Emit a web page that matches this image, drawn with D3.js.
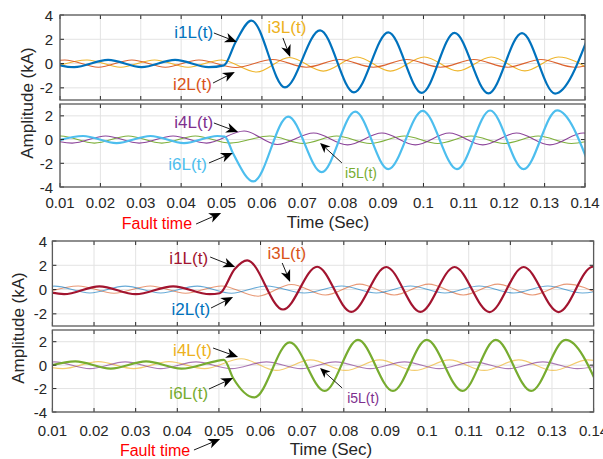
<!DOCTYPE html>
<html><head><meta charset="utf-8">
<script src="https://cdn.jsdelivr.net/npm/d3@7/dist/d3.min.js"></script>
<style>
body{margin:0;background:#fff}
svg{display:block}
text{font-family:"Liberation Sans",Arial,Helvetica,sans-serif}
</style>
</head><body>
<svg id="chart" width="603" height="459"></svg>
<script>
// ---------------- DATA (time in s, current in kA; extrema) ----------------
const xTicks = [0.01,0.02,0.03,0.04,0.05,0.06,0.07,0.08,0.09,0.10,0.11,0.12,0.13,0.14];
const xTickLabels = ["0.01","0.02","0.03","0.04","0.05","0.06","0.07","0.08","0.09","0.1","0.11","0.12","0.13","0.14"];
const yTicksUpper = [4,2,0,-2];
const yTicksLower = [2,0,-2,-4];
const yDomainUpper = [-3,4];
const yDomainLower = [-4,3];
const xDomain = [0.01,0.14];

// Top figure, upper panel
const topI1 = [[0.0052,0.3],[0.0135,-0.3],[0.0219,0.3],[0.0302,-0.3],[0.0385,0.3],[0.0468,-0.3],[0.0506,-0.15],[0.0535,1.78],[0.0574,3.54],[0.0657,-1.96],[0.0744,2.74],[0.0828,-2.37],[0.0913,2.57],[0.0996,-2.42],[0.1077,2.52],[0.1161,-2.45],[0.1244,2.5],[0.1326,-2.47],[0.1411,2.48]];
const topI2 = [[0.0029,-0.3],[0.0112,0.3],[0.0195,-0.3],[0.0278,0.3],[0.0361,-0.3],[0.0444,0.3],[0.0535,-0.32],[0.0627,0.33],[0.071,-0.3],[0.0793,0.33],[0.0876,-0.3],[0.0959,0.33],[0.1042,-0.3],[0.1125,0.33],[0.1208,-0.3],[0.1291,0.33],[0.1374,-0.3],[0.1457,0.33]];
const topI3 = [[0.0084,-0.3],[0.0167,0.3],[0.025,-0.3],[0.0334,0.3],[0.0417,-0.3],[0.05,0.3],[0.0587,-0.7],[0.0668,0.5],[0.0752,-0.62],[0.0835,0.54],[0.0918,-0.62],[0.1002,0.54],[0.1085,-0.6],[0.1168,0.54],[0.1251,-0.6],[0.1334,0.54],[0.1417,-0.6]];
// Top figure, lower panel
const topI4 = [[0.0047,0.3],[0.013,-0.3],[0.0213,0.3],[0.0296,-0.3],[0.038,0.3],[0.0463,-0.3],[0.0556,0.72],[0.0638,-0.42],[0.0728,0.55],[0.0812,-0.45],[0.0897,0.55],[0.098,-0.45],[0.1064,0.55],[0.1147,-0.45],[0.123,0.55],[0.1313,-0.45],[0.1396,0.55],[0.148,-0.45]];
const topI5 = [[0.0019,-0.3],[0.0102,0.3],[0.0185,-0.3],[0.0269,0.3],[0.0352,-0.3],[0.0435,0.3],[0.0521,-0.3],[0.0619,0.3],[0.0702,-0.33],[0.0785,0.3],[0.0868,-0.33],[0.0953,0.3],[0.1035,-0.33],[0.1118,0.3],[0.12,-0.33],[0.1284,0.3],[0.1366,-0.33],[0.145,0.3]];
const topI6 = [[0.0074,-0.3],[0.0157,0.3],[0.024,-0.3],[0.0324,0.3],[0.0407,-0.3],[0.049,0.3],[0.0508,0.25],[0.0528,-1.13],[0.0579,-3.53],[0.0665,1.94],[0.0748,-2.75],[0.0831,2.35],[0.0913,-2.5],[0.0998,2.42],[0.1083,-2.5],[0.1165,2.45],[0.1248,-2.5],[0.1331,2.47],[0.1414,-2.5]];
// Bottom figure, upper panel
const botI1 = [[0.0045,0.27],[0.0128,-0.38],[0.0213,0.27],[0.03,-0.38],[0.039,0.27],[0.0478,-0.38],[0.0502,-0.3],[0.0538,1.7],[0.0568,2.41],[0.0654,-1.64],[0.0736,1.88],[0.0818,-1.84],[0.0902,1.86],[0.0984,-1.84],[0.1066,1.86],[0.115,-1.85],[0.1232,1.86],[0.1316,-1.85],[0.1398,1.88],[0.148,-1.85]];
const botI2 = [[0.002,-0.28],[0.0105,0.28],[0.019,-0.28],[0.0275,0.28],[0.036,-0.28],[0.0448,0.28],[0.053,-0.3],[0.0615,0.3],[0.0705,-0.28],[0.0795,0.3],[0.0878,-0.28],[0.096,0.3],[0.1043,-0.28],[0.1125,0.3],[0.1208,-0.28],[0.129,0.3],[0.1373,-0.28],[0.1455,0.3]];
const botI3 = [[0.008,-0.3],[0.0162,0.3],[0.0248,-0.3],[0.0335,0.3],[0.042,-0.3],[0.0506,0.3],[0.0594,-0.55],[0.0674,0.42],[0.0756,-0.45],[0.0838,0.45],[0.0921,-0.45],[0.1004,0.45],[0.1087,-0.45],[0.117,0.45],[0.1253,-0.45],[0.1336,0.45],[0.1419,-0.45]];
// Bottom figure, lower panel
const botI4 = [[0.0042,0.3],[0.0125,-0.3],[0.021,0.3],[0.0295,-0.3],[0.038,0.3],[0.0465,-0.3],[0.0554,0.54],[0.0637,-0.45],[0.072,0.45],[0.0804,-0.45],[0.0886,0.45],[0.097,-0.45],[0.1054,0.45],[0.1137,-0.45],[0.122,0.45],[0.1303,-0.45],[0.1386,0.45],[0.147,-0.45]];
const botI5 = [[0.0022,-0.3],[0.0105,0.28],[0.019,-0.3],[0.0275,0.28],[0.036,-0.3],[0.0445,0.28],[0.053,-0.3],[0.0614,0.28],[0.0697,-0.3],[0.078,0.28],[0.0863,-0.3],[0.0946,0.28],[0.1029,-0.3],[0.1112,0.28],[0.1195,-0.3],[0.1278,0.28],[0.1361,-0.3],[0.1444,0.28]];
const botI6 = [[0.007,-0.3],[0.0155,0.32],[0.024,-0.3],[0.0325,0.32],[0.041,-0.3],[0.0488,0.3],[0.0512,0.45],[0.0534,-1.1],[0.0585,-2.76],[0.067,1.94],[0.0754,-2.2],[0.0834,2.15],[0.0918,-2.2],[0.0999,2.15],[0.1085,-2.2],[0.1165,2.15],[0.125,-2.2],[0.1333,2.15],[0.1416,-2.2]];

const xLabelText = "Time (Sec)";
const yLabelText = "Amplitude (kA)";
const faultText = "Fault time";

// ---------------- DRAWING ----------------
const svg = d3.select("#chart");
const C = {blue:"#0072BD", orange:"#D95319", yellow:"#EDB120", purple:"#7E2F8E", green:"#77AC30", cyan:"#4DBEEE", red:"#A2142F"};
let clipId = 0;

function arrow(g, p0, p1, headL, headW, sw){
  const dx = p1[0]-p0[0], dy = p1[1]-p0[1];
  const len = Math.hypot(dx,dy), ux = dx/len, uy = dy/len, nx = -uy, ny = ux;
  const back = headL*0.72;
  g.append("line").attr("x1",p0[0]).attr("y1",p0[1])
    .attr("x2",p1[0]-ux*back).attr("y2",p1[1]-uy*back)
    .attr("stroke","#1a1a1a").attr("stroke-width",sw);
  const pts = [
    [p1[0],p1[1]],
    [p1[0]-ux*headL+nx*headW, p1[1]-uy*headL+ny*headW],
    [p1[0]-ux*back, p1[1]-uy*back],
    [p1[0]-ux*headL-nx*headW, p1[1]-uy*headL-ny*headW]
  ];
  g.append("polygon").attr("points",pts.map(p=>p.join(",")).join(" ")).attr("fill","#000");
}

function drawFigure(fig){
  const g = svg.append("g");
  const x = d3.scaleLinear().domain(xDomain).range([fig.x0, fig.x1]);
  const yScales = [];
  fig.panels.forEach(p=>{
    const y = d3.scaleLinear().domain(p.domain).range([p.y1, p.y0]);
    yScales.push(y);
    const pg = g.append("g");
    // grid
    pg.append("g").selectAll("line").data(xTicks).join("line")
      .attr("x1",d=>x(d)).attr("x2",d=>x(d)).attr("y1",p.y0).attr("y2",p.y1)
      .attr("stroke","#e3e3e3").attr("stroke-width",1);
    pg.append("g").selectAll("line").data(p.ticks).join("line")
      .attr("x1",fig.x0).attr("x2",fig.x1).attr("y1",d=>y(d)).attr("y2",d=>y(d))
      .attr("stroke","#e3e3e3").attr("stroke-width",1);
    // curves
    const id = "clip"+(clipId++);
    pg.append("clipPath").attr("id",id).append("rect")
      .attr("x",fig.x0).attr("y",p.y0).attr("width",fig.x1-fig.x0).attr("height",p.y1-p.y0);
    const line = d3.line().x(d=>x(d[0])).y(d=>y(d[1])).curve(d3.curveMonotoneX);
    const cg = pg.append("g").attr("clip-path",`url(#${id})`);
    p.series.forEach(s=>{
      cg.append("path").attr("d",line(s.data)).attr("fill","none")
        .attr("stroke",s.color).attr("stroke-width",s.width).attr("stroke-opacity",s.opacity)
        .attr("stroke-linejoin","round");
    });
    // inward ticks on all sides
    pg.append("g").selectAll("line").data(xTicks).join("line")
      .attr("x1",d=>x(d)).attr("x2",d=>x(d)).attr("y1",p.y1).attr("y2",p.y1-4)
      .attr("stroke","#262626");
    pg.append("g").selectAll("line").data(xTicks).join("line")
      .attr("x1",d=>x(d)).attr("x2",d=>x(d)).attr("y1",p.y0).attr("y2",p.y0+4)
      .attr("stroke","#262626");
    pg.append("g").selectAll("line").data(p.ticks).join("line")
      .attr("x1",fig.x0).attr("x2",fig.x0+4).attr("y1",d=>y(d)).attr("y2",d=>y(d))
      .attr("stroke","#262626");
    pg.append("g").selectAll("line").data(p.ticks).join("line")
      .attr("x1",fig.x1).attr("x2",fig.x1-4).attr("y1",d=>y(d)).attr("y2",d=>y(d))
      .attr("stroke","#262626");
    pg.append("rect").attr("x",fig.x0).attr("y",p.y0).attr("width",fig.x1-fig.x0).attr("height",p.y1-p.y0)
      .attr("fill","none").attr("stroke","#5a5a5a").attr("stroke-width",1.3);
    // y tick labels
    pg.append("g").selectAll("text").data(p.ticks).join("text")
      .attr("x",fig.tickLabelX).attr("y",d=>y(d)).attr("text-anchor","end")
      .attr("dominant-baseline","central").attr("font-size",15).attr("fill","#262626")
      .text(d=>d);
  });
  // x tick labels
  g.append("g").selectAll("text").data(xTicks).join("text")
    .attr("x",d=>x(d)).attr("y",fig.tickLabelY).attr("text-anchor","middle")
    .attr("dominant-baseline","central").attr("font-size",15).attr("fill","#262626")
    .text((d,i)=>xTickLabels[i]);
  g.append("text").attr("x",fig.xLabelX).attr("y",fig.xLabelY).attr("text-anchor","middle")
    .attr("dominant-baseline","central").attr("font-size",17).attr("fill","#262626").text(xLabelText);
  g.append("text").attr("transform",`translate(${fig.yLabelX},${fig.yLabelY}) rotate(-90)`)
    .attr("text-anchor","middle").attr("dominant-baseline","central")
    .attr("font-size",17).attr("fill","#262626").text(yLabelText);
  // annotations
  fig.notes.forEach(n=>{
    const y = yScales[n.panel];
    g.append("text").attr("x",x(n.tx)).attr("y",y(n.tv)).attr("text-anchor",n.anchor)
      .attr("dominant-baseline","central").attr("font-size",n.size).attr("fill",n.color).text(n.text);
    arrow(g,[x(n.from[0]),y(n.from[1])],[x(n.to[0]),y(n.to[1])],n.headL,n.headW,n.sw);
  });
  // fault time
  const f = fig.fault;
  g.append("text").attr("x",x(f.tx)).attr("y",f.ty).attr("text-anchor","end")
    .attr("dominant-baseline","central").attr("font-size",16).attr("fill","#ff0000").text(faultText);
  arrow(g,[x(f.from[0]),f.from[1]],[x(f.to[0]),f.to[1]],12,5,1);
}

drawFigure({
  x0:60, x1:585, tickLabelX:53, tickLabelY:202, xLabelX:328, xLabelY:222, yLabelX:27, yLabelY:103,
  panels:[
    {y0:15, y1:100, domain:yDomainUpper, ticks:yTicksUpper, series:[
      {data:topI3, color:C.yellow, width:1.1, opacity:0.95},
      {data:topI2, color:C.orange, width:1.1, opacity:0.9},
      {data:topI1, color:C.blue, width:2.2, opacity:1}]},
    {y0:104, y1:187, domain:yDomainLower, ticks:yTicksLower, series:[
      {data:topI5, color:C.green, width:1.1, opacity:0.95},
      {data:topI4, color:C.purple, width:1.1, opacity:0.9},
      {data:topI6, color:C.cyan, width:2.2, opacity:1}]}
  ],
  notes:[
    {panel:0, text:"i1L(t)", color:C.blue, size:17, anchor:"end", tx:0.0479, tv:2.52, from:[0.0481,2.52], to:[0.0538,1.78], headL:12, headW:5, sw:1},
    {panel:0, text:"i3L(t)", color:C.yellow, size:17, anchor:"middle", tx:0.0662, tv:3.01, from:[0.0652,2.11], to:[0.067,0.54], headL:12, headW:5, sw:1},
    {panel:0, text:"i2L(t)", color:C.orange, size:17, anchor:"end", tx:0.0476, tv:-1.76, from:[0.0479,-1.6], to:[0.0533,-0.69], headL:12, headW:5, sw:1},
    {panel:1, text:"i4L(t)", color:C.purple, size:17, anchor:"end", tx:0.0479, tv:1.48, from:[0.0481,1.4], to:[0.0541,0.64], headL:12, headW:5, sw:1},
    {panel:1, text:"i6L(t)", color:C.cyan, size:17, anchor:"end", tx:0.0464, tv:-2.14, from:[0.0469,-1.97], to:[0.0528,-1.13], headL:12, headW:5, sw:1},
    {panel:1, text:"i5L(t)", color:C.green, size:14, anchor:"start", tx:0.0806, tv:-2.82, from:[0.0798,-1.97], to:[0.0744,-0.29], headL:10, headW:4.5, sw:1}
  ],
  fault:{tx:0.0427, ty:223, from:[0.0437,224], to:[0.0499,213]}
});

drawFigure({
  x0:52.4, x1:593.6, tickLabelX:47, tickLabelY:430, xLabelX:331, xLabelY:449, yLabelX:18, yLabelY:328,
  panels:[
    {y0:241, y1:326, domain:yDomainUpper, ticks:yTicksUpper, series:[
      {data:botI3, color:C.orange, width:1.1, opacity:0.6},
      {data:botI2, color:C.blue, width:1.1, opacity:0.6},
      {data:botI1, color:C.red, width:2.2, opacity:1}]},
    {y0:330, y1:412, domain:yDomainLower, ticks:yTicksLower, series:[
      {data:botI4, color:C.yellow, width:1.1, opacity:0.65},
      {data:botI5, color:C.purple, width:1.1, opacity:0.65},
      {data:botI6, color:C.green, width:2.2, opacity:1}]}
  ],
  notes:[
    {panel:0, text:"i1L(t)", color:C.red, size:17, anchor:"end", tx:0.0474, tv:2.6, from:[0.0479,2.68], to:[0.0539,1.86], headL:12, headW:5, sw:1},
    {panel:0, text:"i3L(t)", color:C.orange, size:17, anchor:"middle", tx:0.0663, tv:3.01, from:[0.0652,2.19], to:[0.0671,0.63], headL:12, headW:5, sw:1},
    {panel:0, text:"i2L(t)", color:C.blue, size:17, anchor:"end", tx:0.0479, tv:-1.68, from:[0.0481,-1.52], to:[0.0534,-0.61], headL:12, headW:5, sw:1},
    {panel:1, text:"i4L(t)", color:C.yellow, size:17, anchor:"end", tx:0.0483, tv:1.29, from:[0.0486,1.46], to:[0.0546,0.69], headL:12, headW:5, sw:1},
    {panel:1, text:"i6L(t)", color:C.green, size:17, anchor:"end", tx:0.0474, tv:-2.38, from:[0.0476,-2.04], to:[0.0534,-1.1], headL:12, headW:5, sw:1},
    {panel:1, text:"i5L(t)", color:C.purple, size:14, anchor:"start", tx:0.0808, tv:-2.81, from:[0.0796,-1.95], to:[0.0743,-0.25], headL:10, headW:4.5, sw:1}
  ],
  fault:{tx:0.0431, ty:450, from:[0.044,450], to:[0.0503,439]}
});
</script>
</body></html>
